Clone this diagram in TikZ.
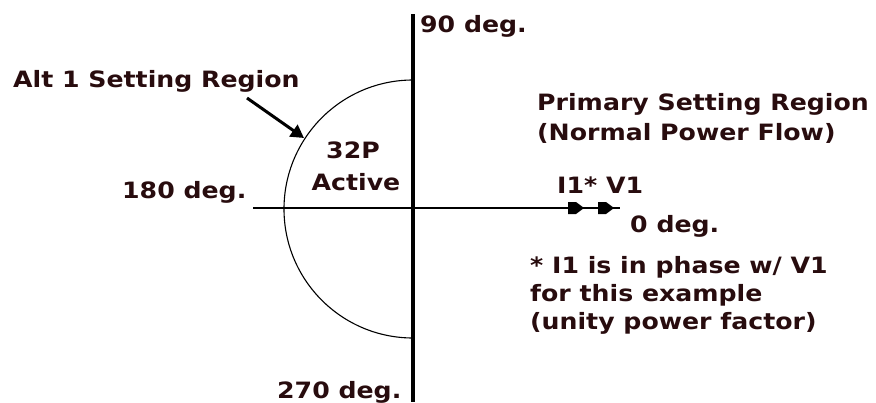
\documentclass[tikz,border=0pt]{standalone}
\usepackage{fontspec}
\setmainfont{DejaVu Sans}[FakeStretch=1.12]
\usetikzlibrary{arrows.meta}
\definecolor{txt}{RGB}{40,12,14}
\begin{document}
\begin{tikzpicture}[x=1pt,y=-1pt,
  lbl/.style={anchor=base west, inner sep=0pt, font=\fontsize{22.5}{26}\selectfont\bfseries, text=txt},
  clbl/.style={anchor=base, inner sep=0pt, font=\fontsize{22.5}{26}\selectfont\bfseries, text=txt},
  axisv/.style={line width=3.5pt},
  axish/.style={line width=1.5pt},
  regionarc/.style={line width=1.1pt},
  pointer/.style={line width=3pt, -{Triangle[length=13pt,width=14pt]}},
  phasorhead/.style={fill=black}]
\useasboundingbox (0,0) rectangle (876,402);

% axes
\coordinate (vtop) at (413,14);
\coordinate (vbot) at (413,402);
\coordinate (hl) at (253,208);
\coordinate (hr) at (620,208);
\draw[axisv] (vtop) -- (vbot);
\draw[axish] (hl) -- (hr);

% phasor arrowheads
\fill[phasorhead] (568,202) -- (576,202) -- (584,208) -- (576,214) -- (568,214) -- cycle;
\fill[phasorhead] (598,202) -- (606,202) -- (614,208) -- (606,214) -- (598,214) -- cycle;

% 32P active region arc
\coordinate (arctop) at (413,80);
\draw[regionarc] (arctop) arc[start angle=270, end angle=90, radius=129];

% labels
\node[lbl] (d90) at (420,32) {90 deg.};
\node[lbl] (alt) at (13,87) {Alt 1 Setting Region};
\node[lbl] (prim1) at (537,110) {Primary Setting Region};
\node[lbl] (prim2) at (537,140) {(Normal Power Flow)};
\node[clbl] (p32) at (353,158) {32P};
\node[clbl] (act) at (356,190) {Active};
\node[lbl] (d180) at (122,198) {180 deg.};
\node[lbl] (i1v1) at (557,193) {I1* V1};
\node[lbl] (d0) at (630,232) {0 deg.};
\node[lbl] (n1) at (530,273) {* I1 is in phase w/ V1};
\node[lbl] (n2) at (530,301) {for this example};
\node[lbl] (n3) at (530,329) {(unity power factor)};
\node[lbl] (d270) at (277,398) {270 deg.};

% pointer to alt region
\coordinate (altstart) at (247,98);
\coordinate (alttip) at (304,138);
\draw[pointer] (altstart) -- (alttip);
\end{tikzpicture}
\end{document}
